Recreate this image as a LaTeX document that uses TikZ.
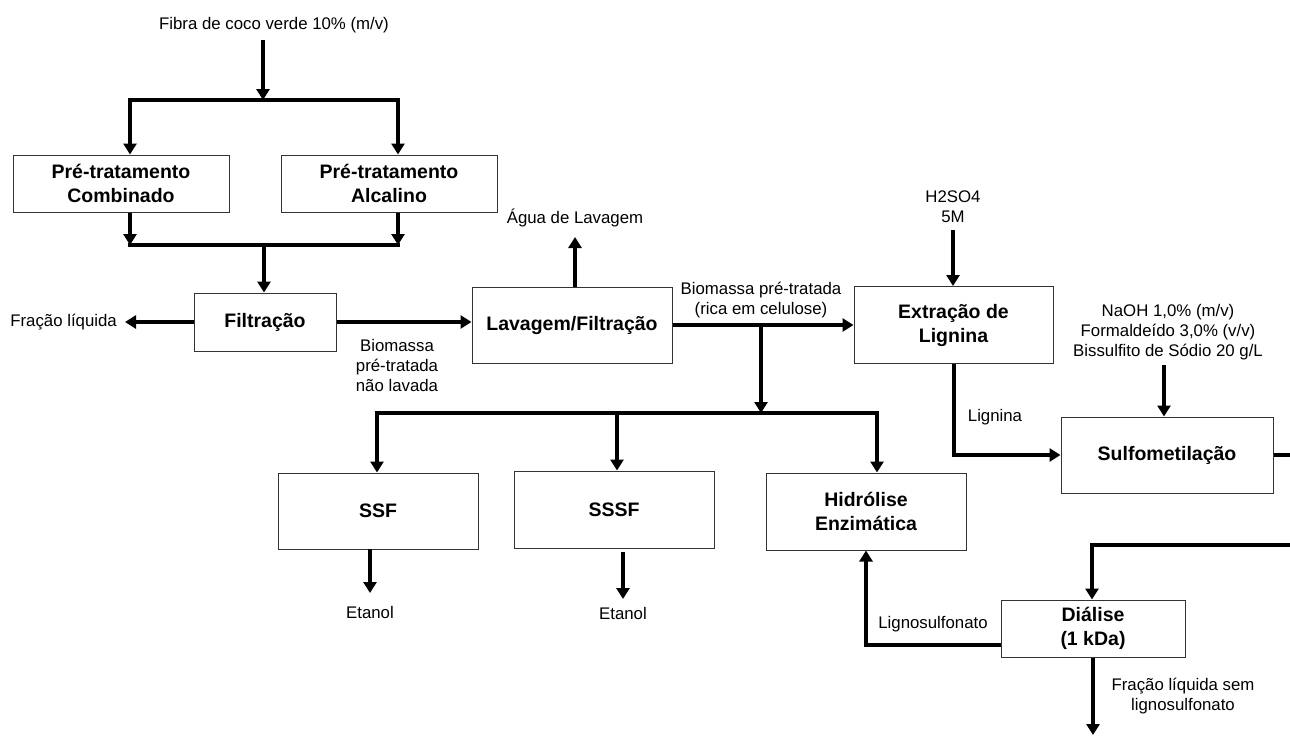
\documentclass[tikz,border=0pt]{standalone}
\usepackage{fontspec}
\setmainfont{Liberation Sans}
\usetikzlibrary{arrows.meta}
\begin{document}
\begin{tikzpicture}[x=1pt,y=-1pt,
  box/.style={draw=black!80, line width=1pt, inner sep=0pt, align=center, font=\fontsize{19.5}{24}\selectfont\bfseries},
  lbl/.style={inner sep=0pt, align=center, font=\fontsize{16.8}{20}\selectfont},
  conn/.style={line width=4pt, -{Triangle[length=11pt,width=13pt]}},
  plainline/.style={line width=4pt, line cap=rect}]
\useasboundingbox (0,0) rectangle (1290,736);
\clip (0,0) rectangle (1290,736);

% boxes
\node[box, minimum width=216pt, minimum height=57pt] (comb) at (121,183.5) {Pré-tratamento\\Combinado};
\node[box, minimum width=216pt, minimum height=57pt] (alc) at (389,183.5) {Pré-tratamento\\Alcalino};
\node[box, minimum width=142pt, minimum height=58pt] (filt) at (265,322) {Filtração};
\node[box, minimum width=200pt, minimum height=76pt] (lav) at (572,325) {Lavagem/Filtração};
\node[box, minimum width=199pt, minimum height=77pt] (ext) at (953.5,325) {Extração de\\Lignina};
\node[box, minimum width=212pt, minimum height=76pt] (sulf) at (1167,455) {Sulfometilação};
\node[box, minimum width=200pt, minimum height=76pt] (ssf) at (378,511) {SSF};
\node[box, minimum width=200pt, minimum height=77pt] (sssf) at (614,509.5) {SSSF};
\node[box, minimum width=200pt, minimum height=77pt] (hid) at (866,511.5) {Hidrólise\\Enzimática};
\node[box, minimum width=184pt, minimum height=57pt] (dial) at (1093,628.5) {Diálise\\(1 kDa)};

% labels
\node[lbl] (fibra) at (274,25) {Fibra de coco verde 10\% (m/v)};
\node[lbl, anchor=east] (fl) at (117,322) {Fração líquida};
\node[lbl] (bnl) at (397,365) {Biomassa\\pré-tratada\\não lavada};
\node[lbl] (agua) at (575,218) {Água de Lavagem};
\node[lbl] (brc) at (761,300) {Biomassa pré-tratada\\(rica em celulose)};
\node[lbl] (h2) at (953,207) {H2SO4\\5M};
\node[lbl] (naoh) at (1168,332) {NaOH 1,0\% (m/v)\\Formaldeído 3,0\% (v/v)\\Bissulfito de Sódio 20 g/L};
\node[lbl] (lig) at (995,417) {Lignina};
\node[lbl] (lsf) at (933,624) {Lignosulfonato};
\node[lbl] (fls) at (1183,696) {Fração líquida sem\\lignosulfonato};
\node[lbl] (et1) at (370,612) {Etanol};
\node[lbl] (et2) at (623,613) {Etanol};

% coordinates
\coordinate (f0) at (263,40);
\coordinate (f1) at (263,100);
\coordinate (sL) at (130,100);
\coordinate (sR) at (398,100);
\coordinate (mL) at (130,245);
\coordinate (mR) at (398,245);
\coordinate (m0) at (264,245);
\coordinate (a1) at (575,237);
\coordinate (b0) at (761,325);
\coordinate (b1) at (761,413);
\coordinate (hL) at (377,413);
\coordinate (hM) at (617,413);
\coordinate (hR) at (877,413);
\coordinate (h2a) at (953,230);
\coordinate (nx) at (1164,365);
\coordinate (r0) at (1300,455);
\coordinate (r1) at (1300,545);
\coordinate (dx) at (1092,545);
\coordinate (y645) at (0,645);
\coordinate (d1) at (1093,735);
\coordinate (s1) at (370,549);
\coordinate (s2) at (370,593);
\coordinate (t1) at (623,552);
\coordinate (t2) at (623,599);

% connectors
\draw[conn] (f0) -- (f1);
\draw[plainline] (sL) -- (sR);
\draw[conn] (sL) -- (sL |- comb.north);
\draw[conn] (sR) -- (sR |- alc.north);
\draw[conn] (comb.south -| mL) -- (mL);
\draw[conn] (alc.south -| mR) -- (mR);
\draw[plainline] (mL) -- (mR);
\draw[conn] (m0) -- (m0 |- filt.north);
\draw[conn, shorten >=8pt] (filt.west) -- (fl.east);
\draw[conn] (filt.east) -- (filt.east -| lav.west);
\draw[conn] (lav.north -| a1) -- (a1);
\draw[conn] (lav.east) -- (ext.west);
\draw[conn] (b0) -- (b1);
\draw[plainline] (hL) -- (hR);
\draw[conn] (hL) -- (hL |- ssf.north);
\draw[conn] (hM) -- (hM |- sssf.north);
\draw[conn] (hR) -- (hR |- hid.north);
\draw[conn] (s1) -- (s2);
\draw[conn] (t1) -- (t2);
\draw[conn] (h2a) -- (h2a |- ext.north);
\draw[conn] (ext.south) |- (sulf.west);
\draw[conn] (nx) -- (nx |- sulf.north);
\draw[conn] (sulf.east) -- (r0) -- (r1) -- (dx) -- (dx |- dial.north);
\draw[conn] (dial.west |- y645) -| (hid.south);
\draw[conn] (dial.south) -- (d1);
\end{tikzpicture}
\end{document}
